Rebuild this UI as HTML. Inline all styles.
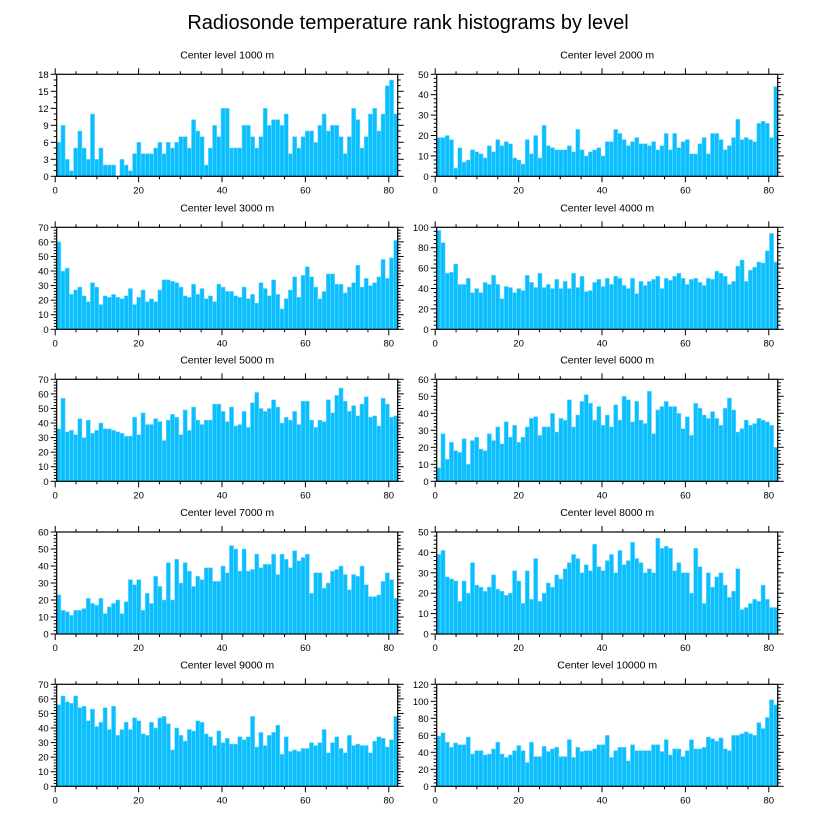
<!DOCTYPE html>
<html><head><meta charset="utf-8"><style>
html,body{margin:0;padding:0;background:#fff;}
svg{display:block;font-family:"Liberation Sans",Arial,sans-serif;}
</style></head><body>
<svg id="chart" width="816" height="824" viewBox="0 0 816 824">
<text x="408" y="29" text-anchor="middle" font-size="20" fill="#000">Radiosonde temperature rank histograms by level</text>
</svg>
<script>
const levels = ["1000","2000","3000","4000","5000","6000","7000","8000","9000","10000"];
const yMaxes = [18,50,70,100,70,60,60,50,70,120];
const yMajorSteps = [3,10,10,20,10,10,10,10,10,20];
const yMinorSteps = [1,2,2,4,2,2,2,2,2,4];
const xTickLabels = [0,20,40,60,80];
const counts1000 = [6,9,3,1,5,8,5,3,11,3,5,2,2,2,0,3,2,1,4,6,4,4,4,5,6,4,6,5,6,7,7,5,10,8,7,2,5,9,7,12,12,5,5,5,9,9,7,5,7,12,9,10,10,9,11,4,7,5,7,8,8,6,9,11,8,9,9,7,4,7,12,10,5,7,11,12,8,11,16,17,11];
const counts2000 = [19,19,20,18,4,14,7,8,13,12,11,9,15,12,18,15,17,16,9,8,6,18,11,20,9,25,15,14,13,13,13,15,12,23,13,10,12,13,14,10,17,17,23,21,18,15,17,19,16,16,15,17,13,15,21,13,21,14,17,18,11,11,16,19,11,21,21,18,13,15,19,28,18,19,18,17,26,27,26,19,44];
const counts3000 = [60,40,42,24,27,29,23,19,32,29,17,23,22,24,22,21,23,28,17,22,27,19,21,19,27,34,34,33,32,29,23,22,31,24,28,21,23,19,31,29,26,26,23,22,29,21,24,18,32,28,23,34,24,14,21,27,36,22,37,43,36,29,21,26,38,38,31,31,25,29,32,44,29,35,30,32,36,48,35,49,61];
const counts4000 = [97,85,55,56,64,44,44,50,36,40,36,46,44,53,44,30,42,41,36,40,38,53,46,41,55,41,44,40,49,40,47,40,55,41,52,37,38,46,49,42,50,44,52,50,43,40,50,35,47,43,47,49,52,40,50,48,52,55,50,44,49,50,46,43,50,49,57,55,52,44,47,62,68,47,58,61,66,65,77,94,66];
const counts5000 = [36,57,34,35,32,43,30,42,33,35,40,36,36,35,34,33,31,31,44,32,47,39,39,43,41,28,42,46,44,32,49,35,51,42,39,42,42,53,53,48,41,51,38,39,48,37,54,61,50,48,50,56,51,40,44,42,48,39,55,55,42,37,42,41,56,47,59,64,55,48,52,45,53,58,44,45,38,57,53,44,45];
const counts6000 = [8,28,13,23,18,17,25,10,24,26,19,18,28,24,32,22,35,26,33,23,26,32,37,38,27,32,32,40,29,37,36,48,32,39,47,51,46,36,44,33,39,32,45,36,50,48,35,47,36,34,53,28,42,44,47,44,44,40,31,38,27,46,43,39,37,41,37,33,43,49,42,29,31,36,33,34,37,36,35,33,20];
const counts7000 = [23,14,13,11,14,14,15,21,18,17,21,12,16,18,20,12,19,32,29,32,14,24,18,34,28,20,42,20,44,30,42,37,28,34,32,39,39,31,31,40,36,52,50,37,50,37,38,47,39,41,41,47,35,47,44,39,49,43,45,47,24,36,36,27,30,37,38,40,35,26,35,34,40,29,22,22,23,31,36,32,21];
const counts8000 = [39,41,28,27,26,16,26,20,35,24,23,21,23,29,22,21,19,20,31,26,15,31,17,37,16,20,25,23,29,27,32,35,39,37,30,34,31,44,33,31,36,39,30,41,34,36,45,37,35,30,32,30,47,42,43,42,31,35,30,30,20,42,33,15,30,23,28,30,24,18,21,32,12,13,15,17,16,24,17,13,13];
const counts9000 = [56,62,58,57,62,54,55,45,53,41,44,54,39,55,35,39,44,39,47,45,36,35,44,40,47,48,43,25,40,35,31,39,38,45,44,36,34,28,38,30,33,29,29,34,32,34,48,27,37,28,35,37,42,22,34,24,25,24,26,26,30,28,30,39,23,30,34,26,23,35,28,29,28,28,23,31,34,33,27,32,48];
const counts10000 = [59,63,52,46,51,49,49,58,38,42,42,37,38,44,52,38,34,37,42,48,42,28,52,35,35,47,41,44,46,35,35,55,34,46,41,42,42,44,49,49,60,34,42,46,46,30,49,42,42,42,42,49,49,41,55,37,44,44,35,42,55,44,44,46,58,56,53,57,44,42,60,60,62,64,62,60,75,68,81,102,96];
const allCounts = [counts1000,counts2000,counts3000,counts4000,counts5000,counts6000,counts7000,counts8000,counts9000,counts10000];

const NS = "http://www.w3.org/2000/svg";
const svg = document.getElementById("chart");
function mk(tag, attrs, parent){
  const e = document.createElementNS(NS, tag);
  for (const k in attrs) e.setAttribute(k, attrs[k]);
  parent.appendChild(e);
  return e;
}
const colLefts = [56.7, 436.7];
const rowTops = [74.3, 227.3, 379.3, 532, 684.3];
const FW = 341, FH = 102;
const K = 4.17;

allCounts.forEach((vals, p) => {
  const L = colLefts[p % 2], T = rowTops[Math.floor(p / 2)], B = T + FH, R = L + FW;
  const yMax = yMaxes[p];
  const xScale = v => L - 1.5 + v * K;
  const yScale = v => B - v / yMax * FH;
  const g = mk("g", {}, svg);
  
  

  const title = mk("text", {x: L + FW/2, y: T - 16, "text-anchor": "middle", "font-size": 10.5, fill: "#000"}, g);
  title.textContent = "Center level " + levels[p] + " m";
  
  

  const bw = 1.01;
  vals.forEach((v, i) => {
    const x0 = xScale(0.36 + i * bw), x1 = xScale(0.36 + (i + 1) * bw);
    const r = mk("rect", {x: x0, y: yScale(v), width: Math.max(0, x1 - x0), height: Math.max(0, B - yScale(v)), fill: "#0bbfff", stroke: "#7fdcff", "stroke-width": 0.5}, g);
    
    
  });

  const frame = mk("rect", {x: L, y: T, width: FW, height: FH, fill: "none", stroke: "#000", "stroke-width": 1.2}, g);
  
  

  // x ticks
  for (let t = 0; t <= 80; t += 5) {
    const x = xScale(t);
    const len = t % 20 === 0 ? 6 : 3;
    mk("line", {x1: x, y1: B, x2: x, y2: B + len, stroke: "#000", "stroke-width": 1}, g);
    mk("line", {x1: x, y1: T, x2: x, y2: T - len, stroke: "#000", "stroke-width": 1}, g);
  }
  xTickLabels.forEach(t => {
    const tx = mk("text", {x: xScale(t), y: B + 17, "text-anchor": "middle", "font-size": 9.5, fill: "#000"}, g);
    tx.textContent = t;
    
    
  });
  // y ticks
  const mn = yMinorSteps[p], mj = yMajorSteps[p];
  for (let v = 0; v <= yMax + 1e-9; v += mn) {
    const y = yScale(v);
    const major = Math.abs(v / mj - Math.round(v / mj)) < 1e-6;
    const len = major ? 6 : 3;
    mk("line", {x1: L, y1: y, x2: L - len, y2: y, stroke: "#000", "stroke-width": 1}, g);
    mk("line", {x1: R, y1: y, x2: R + len, y2: y, stroke: "#000", "stroke-width": 1}, g);
  }
  for (let v = 0; v <= yMax + 1e-9; v += mj) {
    const ty = mk("text", {x: L - 8, y: yScale(v) + 3.5, "text-anchor": "end", "font-size": 9.5, fill: "#000"}, g);
    ty.textContent = v;
    
    
  }
});
</script>
</body></html>
